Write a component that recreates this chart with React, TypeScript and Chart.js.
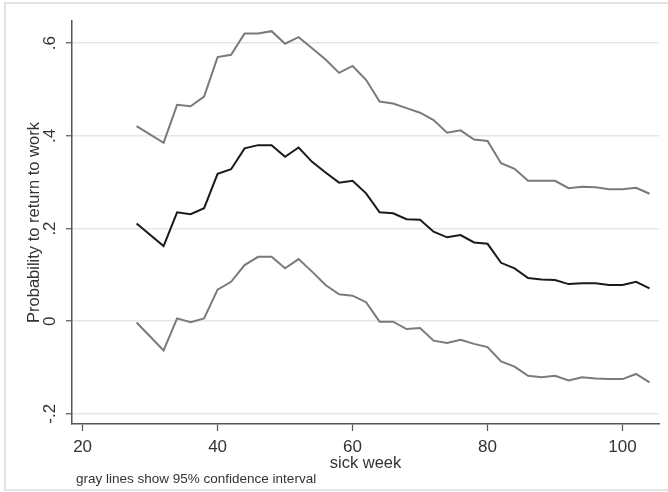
import React, { useEffect, useRef } from "react";
import { Chart, registerables } from "chart.js";

Chart.register(...registerables);

const weeks = [28, 32, 34, 36, 38, 40, 42, 44, 46, 48, 50, 52, 54, 56, 58, 60, 62, 64, 66, 68, 70, 72, 74, 76, 78, 80, 82, 84, 86, 88, 90, 92, 94, 96, 98, 100, 102, 104];
const upper = [0.421, 0.385, 0.467, 0.464, 0.485, 0.570, 0.575, 0.621, 0.621, 0.626, 0.599, 0.613, 0.589, 0.565, 0.536, 0.551, 0.521, 0.474, 0.470, 0.460, 0.450, 0.434, 0.407, 0.412, 0.392, 0.389, 0.341, 0.329, 0.303, 0.303, 0.303, 0.287, 0.290, 0.289, 0.285, 0.285, 0.288, 0.275];
const estimate = [0.211, 0.162, 0.235, 0.231, 0.244, 0.318, 0.328, 0.373, 0.380, 0.380, 0.355, 0.375, 0.344, 0.321, 0.299, 0.303, 0.276, 0.235, 0.233, 0.220, 0.219, 0.193, 0.181, 0.186, 0.170, 0.167, 0.126, 0.114, 0.093, 0.090, 0.089, 0.080, 0.082, 0.082, 0.078, 0.078, 0.085, 0.071];
const lower = [-0.003, -0.063, 0.006, -0.002, 0.006, 0.068, 0.085, 0.121, 0.139, 0.139, 0.114, 0.134, 0.107, 0.078, 0.058, 0.055, 0.041, -0.001, -0.001, -0.017, -0.015, -0.042, -0.047, -0.040, -0.049, -0.056, -0.087, -0.098, -0.118, -0.121, -0.118, -0.128, -0.121, -0.124, -0.125, -0.125, -0.114, -0.132];

const xTicks = [20, 40, 60, 80, 100];
const yTicks = [-0.2, 0, 0.2, 0.4, 0.6];
const yTickLabels = ["-.2", "0", ".2", ".4", ".6"];
const xTitle = "sick week";
const yTitle = "Probability to return to work";
const note = "gray lines show 95% confidence interval";

const FONT = "'Liberation Sans', Arial, sans-serif";

const toPoints = (vals: number[]) => weeks.map((w, i) => ({ x: w, y: vals[i] }));

const decorPlugin = {
  id: "decor",
  beforeDraw(chart: any) {
    const ctx = chart.ctx;
    ctx.save();
    ctx.fillStyle = "#ffffff";
    ctx.fillRect(0, 0, chart.width, chart.height);
    ctx.strokeStyle = "#e4e4e4";
    ctx.lineWidth = 2;
    ctx.beginPath();
    ctx.moveTo(5, 491);
    ctx.lineTo(5, 3);
    ctx.lineTo(668, 3);
    ctx.moveTo(5, 490);
    ctx.lineTo(668, 490);
    ctx.stroke();
    ctx.restore();
  },
  afterDraw(chart: any) {
    const ctx = chart.ctx;
    const y = chart.scales.y;
    const area = chart.chartArea;
    ctx.save();
    ctx.fillStyle = "#333333";
    ctx.font = `17px ${FONT}`;
    ctx.textAlign = "center";
    ctx.textBaseline = "alphabetic";
    yTicks.forEach((v, i) => {
      const py = y.getPixelForValue(v);
      ctx.save();
      ctx.translate(55, py);
      ctx.rotate(-Math.PI / 2);
      ctx.fillText(yTickLabels[i], 0, 0);
      ctx.restore();
    });
    ctx.font = `16.5px ${FONT}`;
    ctx.save();
    ctx.translate(38.5, (area.top + area.bottom) / 2);
    ctx.rotate(-Math.PI / 2);
    ctx.fillText(yTitle, 0, 0);
    ctx.restore();
    ctx.fillText(xTitle, (area.left + area.right) / 2, 468);
    ctx.font = `13.5px ${FONT}`;
    ctx.textAlign = "left";
    ctx.fillText(note, 76, 483);
    ctx.restore();
  },
};

export default function App() {
  const ref = useRef<HTMLCanvasElement | null>(null);
  useEffect(() => {
    document.body.style.margin = "0";
    if (!ref.current) return;
    const chart = new Chart(ref.current, {
      type: "line",
      data: {
        datasets: [
          { label: "upper", data: toPoints(upper), borderColor: "#7a7a7a", borderWidth: 2, pointRadius: 0, tension: 0 },
          { label: "estimate", data: toPoints(estimate), borderColor: "#1a1a1a", borderWidth: 2, pointRadius: 0, tension: 0 },
          { label: "lower", data: toPoints(lower), borderColor: "#7a7a7a", borderWidth: 2, pointRadius: 0, tension: 0 },
        ],
      },
      options: {
        responsive: false,
        animation: false,
        layout: { padding: { left: 0, top: 21, right: 9, bottom: 0 } },
        plugins: { legend: { display: false }, tooltip: { enabled: false } },
        scales: {
          x: {
            type: "linear",
            min: 18.43,
            max: 105.4,
            afterBuildTicks: (s: any) => { s.ticks = xTicks.map((v) => ({ value: v })); },
            afterFit: (s: any) => { s.height = 68; },
            grid: { drawOnChartArea: false, drawTicks: true, tickLength: 7, tickColor: "#555555", tickWidth: 1.2 },
            border: { display: true, color: "#555555", width: 1.5 },
            ticks: { color: "#333333", font: { family: FONT, size: 17 }, padding: 6, maxRotation: 0, autoSkip: false },
          },
          y: {
            type: "linear",
            min: -0.222,
            max: 0.648,
            afterBuildTicks: (s: any) => { s.ticks = yTicks.map((v) => ({ value: v })); },
            afterFit: (s: any) => { s.width = 72; },
            grid: { color: "#e6e6e6", lineWidth: 1.5, drawTicks: true, tickLength: 6, tickColor: "#555555", tickWidth: 1.2 },
            border: { display: true, color: "#555555", width: 1.5 },
            ticks: { display: false },
          },
        },
      },
      plugins: [decorPlugin],
    });
    return () => chart.destroy();
  }, []);
  return <canvas ref={ref} width={668} height={492} style={{ display: "block", width: 668, height: 492 }} />;
}
